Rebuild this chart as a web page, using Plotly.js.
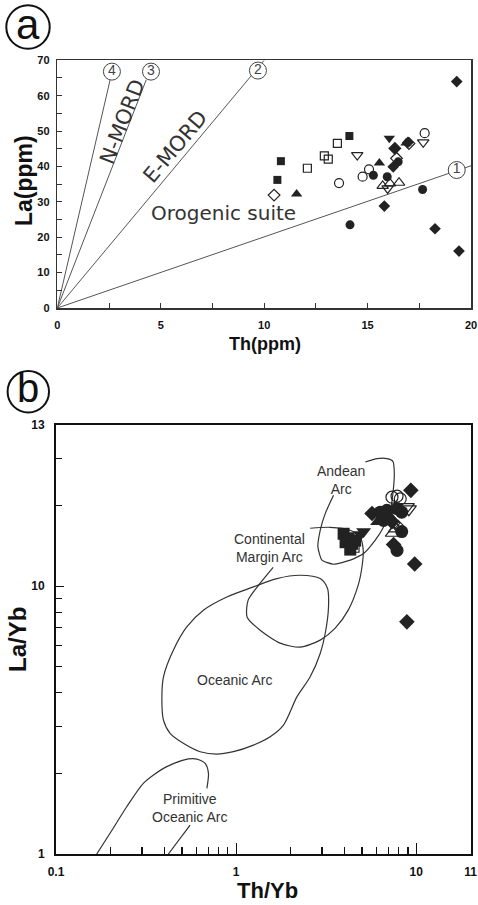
<!DOCTYPE html>
<html>
<head>
<meta charset="utf-8">
<script src="https://cdn.plot.ly/plotly-3.0.1.min.js"></script>
<style>html,body{margin:0;padding:0;background:#fff;}#chart{width:478px;height:905px;}</style>
</head>
<body>
<div id="chart"></div>
<script>
// ---------- Panel (a): Th (ppm) vs La (ppm) ----------
var aFilledSquareX = [10.64, 10.81, 14.12];
var aFilledSquareY = [36.2, 41.5, 48.6];
var aOpenSquareX = [12.09, 12.91, 13.10, 13.54];
var aOpenSquareY = [39.5, 43.0, 42.1, 46.5];
var aFilledCircleX = [14.15, 15.28, 15.95, 16.48, 17.66];
var aFilledCircleY = [23.5, 37.5, 37.1, 41.3, 33.5];
var aOpenCircleX = [13.62, 14.76, 15.07, 17.76];
var aOpenCircleY = [35.3, 37.1, 39.2, 49.4];
var aFilledTriUpX = [11.57, 15.57, 16.86];
var aFilledTriUpY = [32.2, 41.0, 46.6];
var aOpenTriUpX = [15.73, 16.08, 16.52];
var aOpenTriUpY = [34.5, 35.2, 35.4];
var aFilledTriDownX = [16.05];
var aFilledTriDownY = [48.0];
var aOpenTriDownX = [14.50, 15.97, 17.69];
var aOpenTriDownY = [43.2, 33.8, 46.8];
var aFilledDiamondX = [15.81, 16.24, 16.32, 16.95, 18.26, 19.31, 19.42];
var aFilledDiamondY = [28.8, 39.9, 45.1, 46.8, 22.4, 64.0, 16.1];
var aOpenDiamondX = [10.48, 16.32, 16.40, 17.0];
var aOpenDiamondY = [31.9, 45.1, 42.3, 46.5];

// reference lines from origin (Th/La ratio lines)
var refLineEndX = [20, 10, 4.3, 2.55];
var refLineEndY = [40.2, 70, 64.5, 64.4];
var refLabelX = [19.31, 9.70, 4.53, 2.64];
var refLabelY = [39.0, 67.1, 66.8, 66.8];
var refLabelText = ['1', '2', '3', '4'];

// ---------- Panel (b): Th/Yb vs La/Yb ----------
var bFilledSquareX = [3.95, 4.21, 4.40, 4.58, 4.05, 4.30];
var bFilledSquareY = [15.7, 15.1, 14.4, 14.8, 14.6, 13.7];
var bOpenSquareX = [4.6];
var bOpenSquareY = [13.8];
var bFilledCircleX = [6.31, 6.87, 7.82, 8.3, 6.58, 8.3, 7.82];
var bFilledCircleY = [18.9, 19.2, 19.5, 18.9, 17.6, 16.0, 13.6];
var bOpenCircleX = [7.33, 7.82, 8.15];
var bOpenCircleY = [21.5, 21.7, 21.2];
var bFilledTriUpX = [6.1, 7.1];
var bFilledTriUpY = [17.4, 18.3];
var bOpenTriUpX = [7.4, 7.7];
var bOpenTriUpY = [15.8, 16.4];
var bFilledTriDownX = [4.9, 5.1];
var bFilledTriDownY = [15.6, 16.0];
var bOpenTriDownX = [8.87, 9.1];
var bOpenTriDownY = [19.8, 19.4];
var bFilledDiamondX = [9.33, 9.8, 8.87, 5.68, 7.33, 7.48];
var bFilledDiamondY = [22.8, 12.1, 7.36, 18.7, 17.4, 14.3];
var bOpenDiamondX = [7.6, 7.9];
var bOpenDiamondY = [17.2, 16.9];

// field boundaries
var oceanicArcX = [2.268, 2.929, 3.216, 3.257, 3.122, 2.929, 2.577, 2.174, 1.831, 1.545, 1.248, 0.966, 0.781, 0.631, 0.509, 0.430, 0.395, 0.387, 0.395, 0.448, 0.532, 0.658, 0.888, 1.248, 1.684, 2.268];
var oceanicArcY = [10.99, 10.68, 9.80, 8.37, 6.66, 5.61, 4.59, 3.86, 3.03, 2.74, 2.55, 2.41, 2.36, 2.41, 2.59, 2.82, 3.16, 3.75, 4.59, 5.77, 7.05, 8.14, 9.12, 9.94, 10.68, 10.99];
var contArcX = [2.577, 3.328, 4.30, 4.886, 5.077, 5.01, 4.76, 4.19, 3.548, 2.929, 2.268, 1.756, 1.359, 1.151, 1.166, 1.359, 1.605];
var contArcY = [16.46, 16.60, 16.18, 15.23, 13.62, 11.98, 10.09, 8.14, 6.97, 6.29, 5.92, 6.13, 6.85, 7.66, 8.87, 10.26, 11.77];
var andeanArcX = [5.21, 6.05, 6.875, 7.42, 7.55, 7.42, 7.17, 6.58, 5.92, 5.10, 4.30, 3.472, 2.993, 2.843, 2.929, 3.122, 3.472];
var andeanArcY = [29.1, 29.96, 29.96, 29.27, 26.41, 22.23, 19.21, 16.65, 14.85, 13.24, 12.51, 12.08, 12.51, 14.02, 16.18, 18.67, 21.86];
var primArcX = [0.1683, 0.1995, 0.247, 0.3055, 0.395, 0.509, 0.605, 0.673, 0.702, 0.688];
var primArcY = [1.0, 1.195, 1.501, 1.836, 2.088, 2.243, 2.262, 2.18, 2.0, 1.758];
var primPointerX = [0.555, 0.4206];
var primPointerY = [1.283, 1.0];

var INK = '#222';
var FONT = 'Arial, "Liberation Sans", sans-serif';

function pts(x, y, symbol, size, xa, ya, name) {
  var open = symbol.indexOf('open') >= 0;
  return {
    type: 'scatter', mode: 'markers', x: x, y: y, xaxis: xa, yaxis: ya, name: name,
    marker: { symbol: symbol, size: size, color: INK, line: { color: INK, width: open ? 1.2 : 0 } },
    hoverinfo: 'x+y', cliponaxis: false
  };
}

var traces = [];
// (a) lines
var lx = [], ly = [];
for (var i = 0; i < refLineEndX.length; i++) { lx.push(0, refLineEndX[i], null); ly.push(0, refLineEndY[i], null); }
traces.push({ type: 'scatter', mode: 'lines', x: lx, y: ly, xaxis: 'x', yaxis: 'y', line: { color: '#555', width: 1 }, hoverinfo: 'skip' });
traces.push({ type: 'scatter', mode: 'markers+text', x: refLabelX, y: refLabelY, text: refLabelText, xaxis: 'x', yaxis: 'y',
  marker: { symbol: 'circle', size: 17, color: '#fff', line: { color: '#444', width: 1 } },
  textposition: 'middle center', textfont: { family: FONT, size: 14, color: '#444' }, cliponaxis: false, hoverinfo: 'skip' });

traces.push(pts(aFilledSquareX, aFilledSquareY, 'square', 8, 'x', 'y', 'a1'));
traces.push(pts(aFilledCircleX, aFilledCircleY, 'circle', 9, 'x', 'y', 'a3'));
traces.push(pts(aFilledTriUpX, aFilledTriUpY, 'triangle-up', 10, 'x', 'y', 'a5'));
traces.push(pts(aFilledTriDownX, aFilledTriDownY, 'triangle-down', 10, 'x', 'y', 'a7'));
traces.push(pts(aFilledDiamondX, aFilledDiamondY, 'diamond', 9, 'x', 'y', 'a9'));
traces.push(pts(aOpenSquareX, aOpenSquareY, 'square-open', 8, 'x', 'y', 'a2'));
traces.push(pts(aOpenCircleX, aOpenCircleY, 'circle-open', 9, 'x', 'y', 'a4'));
traces.push(pts(aOpenTriUpX, aOpenTriUpY, 'triangle-up-open', 10, 'x', 'y', 'a6'));
traces.push(pts(aOpenTriDownX, aOpenTriDownY, 'triangle-down-open', 10, 'x', 'y', 'a8'));
traces.push(pts(aOpenDiamondX, aOpenDiamondY, 'diamond-open', 9, 'x', 'y', 'a10'));

// (b) fields
function field(x, y, sm) {
  return { type: 'scatter', mode: 'lines', x: x, y: y, xaxis: 'x2', yaxis: 'y2', line: { color: '#333', width: 1.2, shape: 'spline', smoothing: sm }, hoverinfo: 'skip' };
}
traces.push(field(oceanicArcX, oceanicArcY, 0.8));
traces.push(field(contArcX, contArcY, 0.7));
traces.push(field(andeanArcX, andeanArcY, 0.5));
traces.push(field(primArcX, primArcY, 0.7));
traces.push(field(primPointerX, primPointerY, 0));

traces.push(pts(bFilledSquareX, bFilledSquareY, 'square', 12, 'x2', 'y2', 'b1'));
traces.push(pts(bFilledCircleX, bFilledCircleY, 'circle', 13, 'x2', 'y2', 'b3'));
traces.push(pts(bFilledTriUpX, bFilledTriUpY, 'triangle-up', 13, 'x2', 'y2', 'b5'));
traces.push(pts(bFilledTriDownX, bFilledTriDownY, 'triangle-down', 13, 'x2', 'y2', 'b7'));
traces.push(pts(bFilledDiamondX, bFilledDiamondY, 'diamond', 12, 'x2', 'y2', 'b9'));
traces.push(pts(bOpenSquareX, bOpenSquareY, 'square-open', 7, 'x2', 'y2', 'b2'));
traces.push(pts(bOpenCircleX, bOpenCircleY, 'circle-open', 12, 'x2', 'y2', 'b4'));
traces.push(pts(bOpenTriUpX, bOpenTriUpY, 'triangle-up-open', 13, 'x2', 'y2', 'b6'));
traces.push(pts(bOpenTriDownX, bOpenTriDownY, 'triangle-down-open', 13, 'x2', 'y2', 'b8'));
traces.push(pts(bOpenDiamondX, bOpenDiamondY, 'diamond-open', 8, 'x2', 'y2', 'b10'));

var W = 478, H = 905;
function px(x) { return x / W; }
function py(y) { return 1 - y / H; }

var tickA = { family: FONT, size: 11, color: '#111', weight: 'bold' };
var tickB = { family: FONT, size: 12, color: '#111', weight: 'bold' };
var labelFont = { family: FONT, size: 14, color: '#333' };
var mordFont = { family: '"DejaVu Sans", sans-serif', size: 21, color: '#333' };
function titleFont(s) { return { family: FONT, size: s, weight: 'bold', color: '#111' }; }
function note(x, y, text, font, angle) {
  var a = { xref: 'paper', yref: 'paper', x: px(x), y: py(y), text: text, showarrow: false, font: font,
    xanchor: 'center', yanchor: 'middle', align: 'center', borderpad: 0 };
  if (angle) a.textangle = angle;
  return a;
}

var layout = {
  width: W, height: H,
  margin: { l: 0, r: 0, t: 0, b: 0 },
  paper_bgcolor: '#fff', plot_bgcolor: '#fff',
  showlegend: false,
  font: { family: FONT, color: '#111' },
  xaxis: {
    domain: [px(57.3), px(471)], anchor: 'y', range: [0, 20], tickmode: 'linear', tick0: 0, dtick: 5,
    ticks: 'inside', ticklen: 5, tickwidth: 1, tickcolor: '#333',
    minor: { dtick: 2.5, ticks: 'inside', ticklen: 5, tickcolor: '#333', tickwidth: 1 },
    showline: true, linecolor: '#333', linewidth: 1.5, mirror: true, showgrid: false, zeroline: false,
    tickfont: tickA, ticklabelstandoff: 6, automargin: false,
    title: { text: '' }
  },
  yaxis: {
    domain: [py(308), py(60.3)], anchor: 'x', range: [0, 70], tickmode: 'linear', tick0: 0, dtick: 10,
    ticks: 'inside', ticklen: 5, tickwidth: 1, tickcolor: '#333',
    minor: { dtick: 5, ticks: 'inside', ticklen: 5, tickcolor: '#333', tickwidth: 1 },
    showline: true, linecolor: '#333', linewidth: 1.5, mirror: true, showgrid: false, zeroline: false,
    tickfont: tickA, ticklabelstandoff: 4, automargin: false,
    title: { text: '' }
  },
  xaxis2: {
    domain: [px(56), px(470.5)], anchor: 'y2', type: 'log', range: [-1, Math.log10(20)],
    tickmode: 'array', tickvals: [0.1, 1, 10, 20], ticktext: ['0.1', '1', '10', '11'],
    ticks: 'inside', ticklen: 11, tickwidth: 1.2, tickcolor: '#111',
    minor: { tickmode: 'array', tickvals: [0.2, 0.3, 0.4, 0.5, 0.6, 0.7, 0.8, 0.9, 2, 3, 4, 5, 6, 7, 8, 9], ticks: 'inside', ticklen: 7, tickcolor: '#111', tickwidth: 1.2 },
    showline: true, linecolor: '#111', linewidth: 2, mirror: true, showgrid: false, zeroline: false,
    tickfont: tickB, ticklabelstandoff: 6, automargin: false,
    title: { text: '' }
  },
  yaxis2: {
    domain: [py(854), py(425)], anchor: 'x2', type: 'log', range: [0, Math.log10(40)],
    tickmode: 'array', tickvals: [1, 10, 40], ticktext: ['1', '10', '13'],
    ticks: 'inside', ticklen: 8, tickwidth: 1.2, tickcolor: '#111',
    minor: { tickmode: 'array', tickvals: [2, 3, 4, 5, 6, 7, 8, 9, 20, 30], ticks: 'inside', ticklen: 6, tickcolor: '#111', tickwidth: 1.2 },
    showline: true, linecolor: '#111', linewidth: 2, mirror: true, showgrid: false, zeroline: false,
    tickfont: tickB, ticklabelstandoff: 7, automargin: false,
    title: { text: '' }
  },
  shapes: [
    { type: 'circle', xref: 'paper', yref: 'paper', x0: px(28 - 21.7), x1: px(28 + 21.7), y0: py(27 + 21.7), y1: py(27 - 21.7), line: { color: '#111', width: 2 } },
    { type: 'circle', xref: 'paper', yref: 'paper', x0: px(28.3 - 20.7), x1: px(28.3 + 20.7), y0: py(391.7 + 20.7), y1: py(391.7 - 20.7), line: { color: '#111', width: 2 } }
  ],
  annotations: [
    // axis titles
    note(265, 344, 'Th(ppm)', titleFont(18)),
    note(24, 181, 'La(ppm)', titleFont(23), -90),
    note(267, 890.5, 'Th/Yb', titleFont(22)),
    note(17, 640, 'La/Yb', titleFont(24), -90),
    // panel letters
    note(28, 24, 'a', { family: FONT, size: 42, color: '#111' }),
    note(28.3, 388, 'b', { family: FONT, size: 40, color: '#111' }),
    // panel (a) labels
    { xref: 'x', yref: 'y', x: 3.14, y: 52.6, text: 'N-MORD', textangle: -68.7, showarrow: false, font: mordFont, xanchor: 'center', yanchor: 'middle' },
    { xref: 'x', yref: 'y', x: 5.69, y: 45.6, text: 'E-MORD', textangle: -50.1, showarrow: false, font: mordFont, xanchor: 'center', yanchor: 'middle' },
    { xref: 'x', yref: 'y', x: 8.03, y: 26.8, text: 'Orogenic suite', showarrow: false, font: { family: '"DejaVu Sans", sans-serif', size: 20, color: '#333' }, xanchor: 'center', yanchor: 'middle' },
    // panel (b) field labels
    note(340.5, 480, 'Andean<br>Arc', labelFont),
    note(269.5, 547.5, 'Continental<br>Margin Arc', labelFont),
    note(234, 680, 'Oceanic Arc', labelFont),
    note(189.6, 808, 'Primitive<br>Oceanic Arc', labelFont)
  ]
};

Plotly.newPlot('chart', traces, layout, { displayModeBar: false, staticPlot: true });
</script>
</body>
</html>
